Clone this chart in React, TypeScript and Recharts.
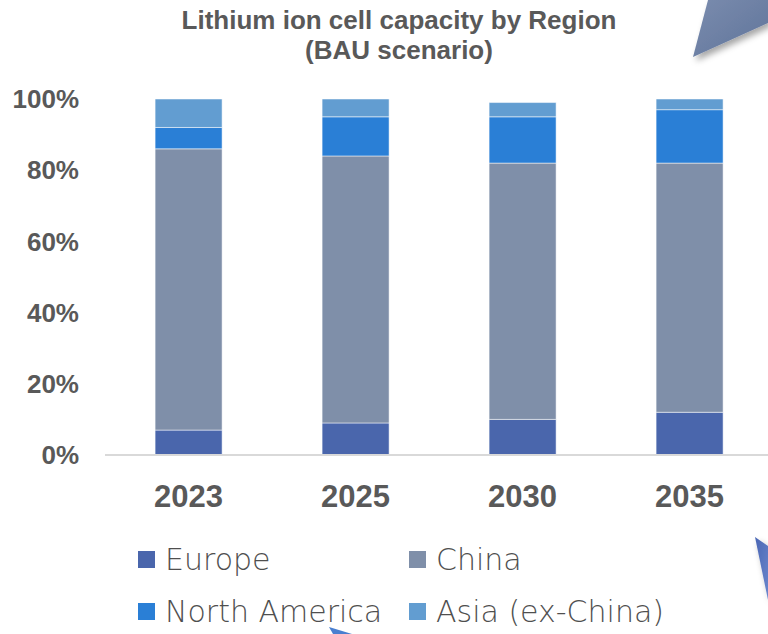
import React from "react";
import { BarChart, Bar, XAxis, YAxis, Legend } from "recharts";

const years = ["2023", "2025", "2030", "2035"];
const europe = [7, 9, 10, 12];
const china = [79, 75, 72, 70];
const northAmerica = [6, 11, 13, 15];
const asiaExChina = [8, 5, 4, 3];
const yTicks = [0, 20, 40, 60, 80, 100];

const seriesNames = ["Europe", "China", "North America", "Asia (ex-China)"];
const seriesKeys = ["europe", "china", "na", "asia"];
const seriesColors = ["#4A66AC", "#7F8FA9", "#2A7FD6", "#629DD1"];

const data = years.map((y, i) => ({
  year: y,
  europe: europe[i],
  china: china[i],
  na: northAmerica[i],
  asia: asiaExChina[i],
}));

const legendFont = "'DejaVu Sans', sans-serif";

const renderLegend = () => {
  const cols = [138, 409];
  const rows = [551, 603];
  return (
    <div style={{ position: "relative", width: 768, height: 0 }}>
      {seriesNames.map((name, i) => {
        const c = cols[i % 2];
        const r = rows[Math.floor(i / 2)];
        return (
          <div
            key={name}
            style={{
              position: "absolute",
              left: c,
              top: r - 540,
              display: "flex",
              alignItems: "center",
              whiteSpace: "nowrap",
            }}
          >
            <span
              style={{
                display: "inline-block",
                width: 17,
                height: 17,
                background: seriesColors[i],
                marginRight: 10,
              }}
            />
            <span
              style={{
                fontFamily: legendFont,
                fontWeight: 200,
                fontSize: 30,
                color: "#4F4F4F",
                lineHeight: "17px",
              }}
            >
              {name}
            </span>
          </div>
        );
      })}
    </div>
  );
};

export default function App() {
  return (
    <div
      style={{
        position: "absolute",
        left: 0,
        top: 0,
        width: 768,
        height: 634,
        overflow: "hidden",
        background: "#ffffff",
      }}
    >
      <div
        style={{
          position: "absolute",
          left: 0,
          top: 5,
          width: 798,
          textAlign: "center",
          fontFamily: "'Liberation Sans', Arial, sans-serif",
          fontWeight: 700,
          fontSize: 26,
          lineHeight: "30px",
          color: "#595959",
        }}
      >
        Lithium ion cell capacity by Region
        <br />
        (BAU scenario)
      </div>
      <BarChart
        width={773}
        height={634}
        data={data}
        margin={{ top: 99, right: 0, left: 0, bottom: 119 }}
        barCategoryGap="30%"
      >
        <XAxis
          dataKey="year"
          height={60}
          tickLine={false}
          tickSize={0}
          tickMargin={30}
          axisLine={{ stroke: "#D9D9D9", strokeWidth: 2 }}
          tick={{
            fill: "#595959",
            fontSize: 31,
            fontWeight: 700,
            fontFamily: "'Liberation Sans', Arial, sans-serif",
          }}
        />
        <YAxis
          width={105}
          domain={[0, 100]}
          ticks={yTicks}
          tickFormatter={(v) => `${v}%`}
          axisLine={false}
          tickLine={false}
          tickSize={0}
          tickMargin={26}
          tick={{
            fill: "#595959",
            fontSize: 26,
            fontWeight: 700,
            fontFamily: "'Liberation Sans', Arial, sans-serif",
          }}
        />
        <Legend
          content={renderLegend}
          wrapperStyle={{
            position: "absolute",
            left: 0,
            top: 540,
            width: 768,
            height: 0,
            overflow: "visible",
          }}
        />
        {seriesKeys.map((k, i) => (
          <Bar
            key={k}
            dataKey={k}
            name={seriesNames[i]}
            stackId="a"
            fill={seriesColors[i]}
            stroke="#ffffff"
            strokeOpacity={0.5}
            strokeWidth={1}
            isAnimationActive={false}
          />
        ))}
      </BarChart>
      <svg
        width={768}
        height={634}
        style={{ position: "absolute", left: 0, top: 0, pointerEvents: "none" }}
      >
        <defs>
          <filter id="sh" x="-50%" y="-50%" width="200%" height="200%">
            <feDropShadow dx="3" dy="4" stdDeviation="3" floodColor="#000" floodOpacity="0.35" />
          </filter>
          <linearGradient id="g1" x1="0" y1="0" x2="1" y2="1">
            <stop offset="0" stopColor="#7A8CAE" />
            <stop offset="1" stopColor="#60749A" />
          </linearGradient>
          <linearGradient id="g2" x1="0" y1="0" x2="1" y2="1">
            <stop offset="0" stopColor="#4A66B4" />
            <stop offset="1" stopColor="#6A86CC" />
          </linearGradient>
        </defs>
        <polygon points="708,0 768,0 768,23 693,57" fill="url(#g1)" filter="url(#sh)" />
        <polygon points="755,537 768,546 768,600" fill="url(#g2)" filter="url(#sh)" />
        <polygon points="329,627 352,634 333,634" fill="#4A7FD0" />
      </svg>
    </div>
  );
}
